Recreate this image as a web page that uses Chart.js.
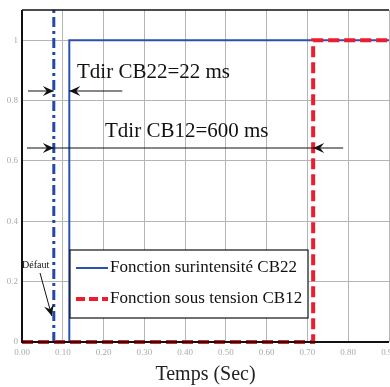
<!DOCTYPE html>
<html>
<head>
<meta charset="utf-8">
<script src="https://cdn.jsdelivr.net/npm/chart.js@4/dist/chart.umd.min.js"></script>
<style>
  body { margin: 0; background: #fff; }
  #wrap { width: 390px; height: 387px; }
</style>
</head>
<body>
<div id="wrap"><canvas id="chart" width="390" height="387"></canvas></div>
<script>
// Time axis ticks (seconds) and signal levels
var timeTicks = [0, 0.1, 0.2, 0.3, 0.4, 0.5, 0.6, 0.7, 0.8, 0.9];
var levelTicks = [0, 0.2, 0.4, 0.6, 0.8, 1];

// Fault instant
var faultTime = 0.078;

// Overcurrent function CB22 (step)
var cb22Times = [0, 0.116, 0.116, 0.9];
var cb22Values = [0, 0, 1, 1];

// Undervoltage function CB12 (step)
var cb12Times = [0, 0.714, 0.714, 0.9];
var cb12Values = [0, 0, 1, 1];

var serif = '"Liberation Serif", "Times New Roman", serif';

function toPoints(xs, ys) {
    var pts = [];
    xs.forEach(function (x, i) { pts.push({ x: x, y: ys[i] }); });
    return pts;
}

// Draw a horizontal arrow head at (x, y) pointing in direction dir (+1 right, -1 left)
function arrowHead(ctx, x, y, dir) {
    ctx.beginPath();
    ctx.moveTo(x, y);
    ctx.lineTo(x - dir * 11, y - 5);
    ctx.lineTo(x - dir * 7, y);
    ctx.lineTo(x - dir * 11, y + 5);
    ctx.closePath();
    ctx.fill();
}

var annotations = {
    id: 'annotations',
    afterDatasetsDraw: function (chart) {
        var ctx = chart.ctx;
        var xs = chart.scales.x;
        var area = chart.chartArea;
        var xf = xs.getPixelForValue(faultTime);
        var x22 = xs.getPixelForValue(cb22Times[1]);
        var x12 = xs.getPixelForValue(cb12Times[1]);

        ctx.save();
        ctx.strokeStyle = '#111';
        ctx.fillStyle = '#111';
        ctx.lineWidth = 1.2;

        // Tdir CB22 arrows
        var yA = 91;
        ctx.beginPath();
        ctx.moveTo(area.left + 6, yA); ctx.lineTo(xf, yA);
        ctx.moveTo(x22, yA); ctx.lineTo(x22 + 53, yA);
        ctx.stroke();
        arrowHead(ctx, xf, yA, 1);
        arrowHead(ctx, x22, yA, -1);

        // Tdir CB12 arrows
        var yB = 148;
        ctx.beginPath();
        ctx.moveTo(area.left + 5, yB); ctx.lineTo(x12 + 30, yB);
        ctx.stroke();
        arrowHead(ctx, xf, yB, 1);
        arrowHead(ctx, x12, yB, -1);

        // Labels
        ctx.font = '21px ' + serif;
        ctx.textBaseline = 'middle';
        ctx.textAlign = 'left';
        ctx.fillText('Tdir CB22=22 ms', 77, 72);
        ctx.fillText('Tdir CB12=600 ms', 105, 131);

        // Défaut label and arrow
        ctx.font = '10px ' + serif;
        ctx.fillText('Défaut', 22, 265);
        ctx.lineWidth = 1;
        ctx.beginPath();
        ctx.moveTo(40, 273); ctx.lineTo(xf - 2, 316);
        ctx.stroke();
        var ang = Math.atan2(316 - 273, xf - 2 - 40);
        ctx.save();
        ctx.translate(xf - 2, 316);
        ctx.rotate(ang);
        ctx.beginPath();
        ctx.moveTo(0, 0); ctx.lineTo(-11, -5); ctx.lineTo(-7, 0); ctx.lineTo(-11, 5);
        ctx.closePath();
        ctx.fill();
        ctx.restore();

        // Legend box
        var lx = 70, ly = 250, lw = 238, lh = 68;
        ctx.fillStyle = '#fff';
        ctx.fillRect(lx, ly, lw, lh);
        ctx.strokeStyle = '#111';
        ctx.lineWidth = 1.2;
        ctx.strokeRect(lx, ly, lw, lh);

        ctx.lineWidth = 2;
        ctx.strokeStyle = '#2a50b0';
        ctx.beginPath(); ctx.moveTo(76, 268); ctx.lineTo(108, 268); ctx.stroke();
        ctx.lineWidth = 4;
        ctx.strokeStyle = '#ee1c2c';
        ctx.setLineDash([9, 4]);
        ctx.beginPath(); ctx.moveTo(76, 299); ctx.lineTo(108, 299); ctx.stroke();
        ctx.setLineDash([]);

        ctx.fillStyle = '#111';
        ctx.font = '17px ' + serif;
        ctx.fillText('Fonction surintensité CB22', 110, 268);
        ctx.fillText('Fonction sous tension CB12', 110, 299);

        // Frame: black left, bottom and top
        ctx.strokeStyle = '#111';
        ctx.lineWidth = 2;
        ctx.beginPath();
        ctx.moveTo(area.left, area.top); ctx.lineTo(area.left, area.bottom);
        ctx.lineTo(area.right, area.bottom);
        ctx.stroke();
        ctx.lineWidth = 1.5;
        ctx.beginPath();
        ctx.moveTo(area.left, area.top); ctx.lineTo(area.right, area.top);
        ctx.stroke();
        ctx.restore();
    }
};

new Chart(document.getElementById('chart').getContext('2d'), {
    type: 'line',
    data: {
        datasets: [{
            label: 'Défaut',
            data: [{ x: faultTime, y: 0 }, { x: faultTime, y: 1.1 }],
            borderColor: '#2448a8',
            borderWidth: 3,
            borderDash: [10, 4, 3, 4],
            pointRadius: 0,
            order: 3
        }, {
            label: 'Fonction surintensité CB22',
            data: toPoints(cb22Times, cb22Values),
            borderColor: '#2a50b0',
            borderWidth: 2,
            pointRadius: 0,
            clip: 4,
            order: 2
        }, {
            label: 'Fonction sous tension CB12',
            data: toPoints(cb12Times, cb12Values),
            borderColor: '#ee1c2c',
            borderWidth: 4,
            borderDash: [11, 5],
            pointRadius: 0,
            clip: 4,
            order: 1
        }]
    },
    options: {
        responsive: false,
        animation: false,
        layout: { padding: { top: 10, right: 1, left: 0, bottom: 0 } },
        plugins: {
            legend: { display: false },
            tooltip: { enabled: false }
        },
        scales: {
            x: {
                type: 'linear',
                min: 0,
                max: 0.9,
                afterBuildTicks: function (axis) {
                    axis.ticks = timeTicks.map(function (v) { return { value: v }; });
                },
                afterFit: function (axis) {
                    axis.paddingLeft = 0;
                    axis.paddingRight = 0;
                    axis.height = 45;
                },
                ticks: {
                    color: '#aaa',
                    font: { size: 9, family: serif },
                    padding: 5,
                    maxRotation: 0,
                    callback: function (v) { return v.toFixed(2); }
                },
                grid: { color: '#b5b5b5', lineWidth: 1, drawTicks: false },
                border: { display: false },
                title: {
                    display: true,
                    text: 'Temps (Sec)',
                    color: '#222',
                    font: { size: 20, family: serif },
                    padding: { top: 4, bottom: 0 }
                }
            },
            y: {
                min: 0,
                max: 1.1,
                afterBuildTicks: function (axis) {
                    axis.ticks = levelTicks.map(function (v) { return { value: v }; });
                },
                afterFit: function (axis) {
                    axis.width = 22;
                    axis.paddingTop = 0;
                    axis.paddingBottom = 0;
                },
                ticks: {
                    color: '#aaa',
                    font: { size: 9, family: serif },
                    padding: 4,
                    callback: function (v) { return String(v); }
                },
                grid: { color: '#b5b5b5', lineWidth: 1, drawTicks: false },
                border: { display: false }
            }
        }
    },
    plugins: [annotations]
});
</script>
</body>
</html>
